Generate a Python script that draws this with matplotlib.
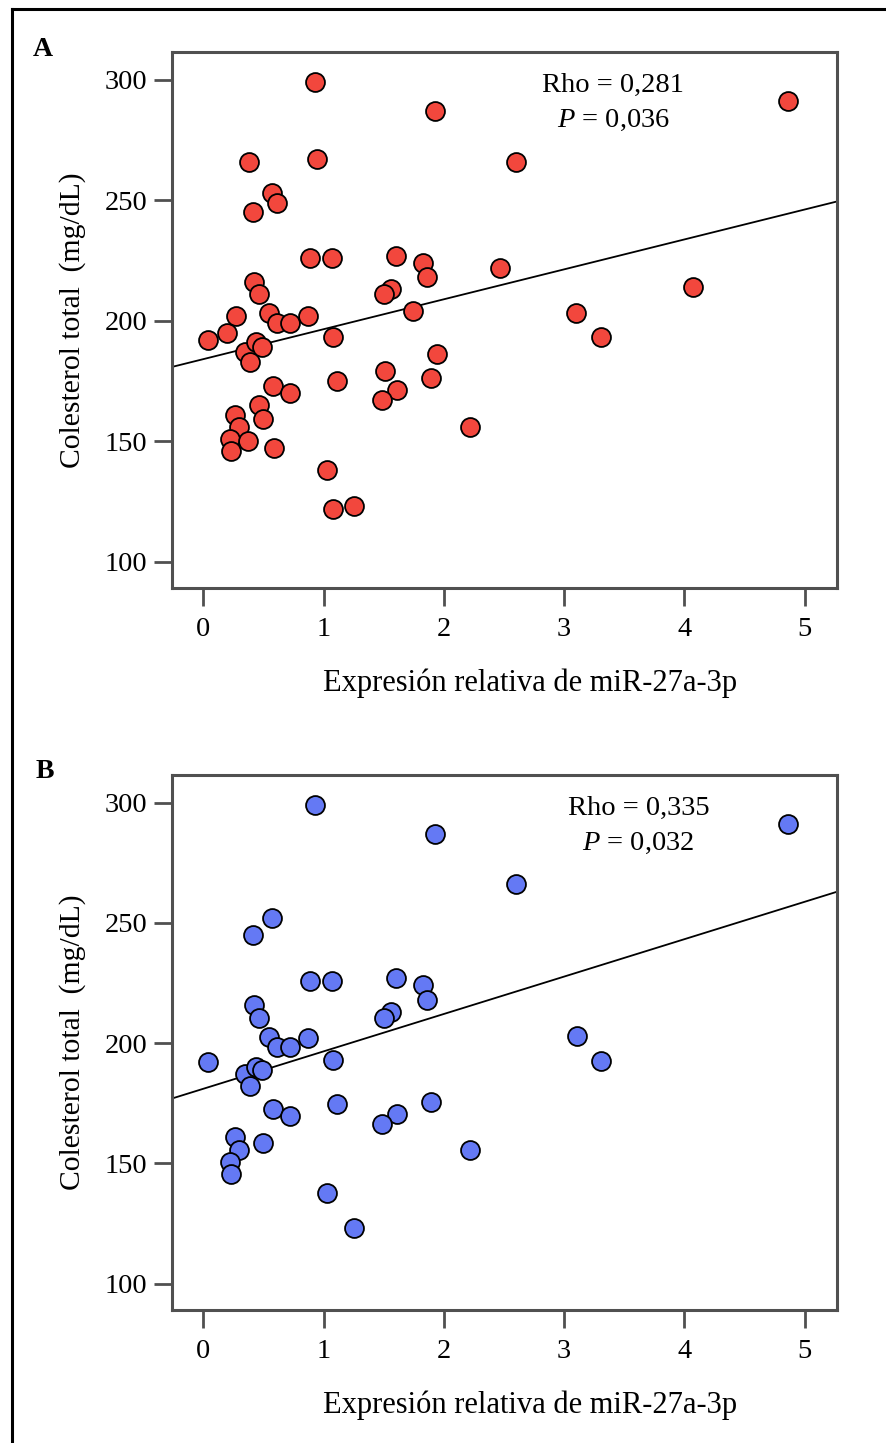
import numpy as np
import matplotlib
matplotlib.use("Agg")
import matplotlib.pyplot as plt
from matplotlib.lines import Line2D

plt.rcParams['font.family'] = ['Liberation Serif', 'DejaVu Serif']
plt.rcParams['mathtext.fontset'] = 'custom'
plt.rcParams['mathtext.rm'] = 'Liberation Serif'
plt.rcParams['mathtext.it'] = 'Liberation Serif:italic'

# panel A: all patients
x_a = [0.04, 0.20, 0.27, 0.35, 0.39, 0.44, 0.49, 0.42, 0.465, 0.55,
       0.615, 0.72, 0.87, 1.08, 0.38, 0.945, 0.93, 1.93, 0.57, 0.615,
       0.41, 0.89, 1.07, 1.60, 1.83, 1.86, 2.47, 1.56, 1.50, 1.74,
       1.94, 0.58, 0.72, 1.11, 1.51, 1.61, 1.49, 1.89, 0.46, 0.50,
       0.26, 0.30, 0.22, 0.37, 0.23, 0.59, 2.22, 1.03, 1.08, 1.25,
       4.86, 2.60, 4.07, 3.10, 3.31]
y_a = [192, 195, 202, 187, 183, 191, 189, 216, 211, 203,
       199, 199, 202, 193, 266, 267, 299, 287, 253, 249,
       245, 226, 226, 227, 224, 218, 222, 213, 211, 204,
       186, 173, 170, 175, 179, 171, 167, 176, 165, 159,
       161, 156, 151, 150, 146, 147, 156, 138, 122, 123,
       291, 266, 214, 203, 193]

# panel B: subgroup
x_b = [0.04, 0.35, 0.39, 0.44, 0.49, 0.42, 0.465, 0.55, 0.615, 0.72,
       0.87, 1.08, 0.93, 1.93, 0.57, 0.41, 0.89, 1.07, 1.60, 1.83,
       1.86, 1.56, 1.50, 0.58, 0.72, 1.11, 1.61, 1.49, 1.89, 0.50,
       0.26, 0.30, 0.22, 0.23, 2.22, 1.03, 1.25, 4.86, 2.60, 3.11,
       3.31]
y_b = [192, 187, 182, 190, 189, 216, 210.5, 202.5, 198.5, 198.5,
       202, 193, 299, 287, 252, 245, 226, 226, 227, 224,
       218, 213, 210.5, 172.5, 169.5, 174.5, 170.5, 166.5, 175.5, 158.5,
       161, 155.5, 150.5, 145.5, 155.5, 137.5, 123, 291, 266, 203,
       192.5]

# fitted lines (intercept, slope)
fit_a = (184.0, 12.42)
fit_b = (181.0, 15.55)
stats_a = ("0,281", "0,036")
stats_b = ("0,335", "0,032")

x_ticks = [0, 1, 2, 3, 4, 5]
y_ticks = [100, 150, 200, 250, 300]
x_label = "Expresión relativa de miR-27a-3p"
y_label = "Colesterol total  (mg/dL)"

W, H = 886, 1443
fig = plt.figure(figsize=(W / 100, H / 100), dpi=100)

spine_col = '#505050'


def draw_panel(ax, x, y, color, fit, stats, text_x):
    ax.set_xlim(-0.26, 5.27)
    ax.set_ylim(89, 311.5)
    a, b = fit
    xs = np.array(ax.get_xlim())
    ax.plot(xs, a + b * xs, color='black', lw=1.3, zorder=2)
    ax.scatter(x, y, s=185, c=color, edgecolors='black', linewidths=1.3, zorder=3)
    ax.set_xticks(x_ticks)
    ax.set_yticks(y_ticks)
    ax.tick_params(direction='out', length=13, width=2, color=spine_col,
                   labelsize=20.5)
    ax.tick_params(axis='x', pad=8)
    ax.tick_params(axis='y', pad=5)
    for s in ax.spines.values():
        s.set_color(spine_col)
        s.set_linewidth(2.2)
    ax.set_xlabel(x_label, fontsize=22, labelpad=19)
    ax.xaxis.label.set_x(0.538)  # label sits a bit right of centre
    ax.set_ylabel(y_label, fontsize=21.3, labelpad=13)
    ax.text(text_x, 297.5, "Rho = " + stats[0], fontsize=20.5,
            ha='center', va='center')
    ax.text(text_x, 283, "$P$ = " + stats[1], fontsize=20.5,
            ha='center', va='center')


left = 172 / W
width = 665 / W
ax_a = fig.add_axes([left, 1 - 588 / H, width, 536 / H])
ax_b = fig.add_axes([left, 1 - 1310 / H, width, 535 / H])

draw_panel(ax_a, x_a, y_a, '#f2473d', fit_a, stats_a, 3.41)
draw_panel(ax_b, x_b, y_b, '#6479f4', fit_b, stats_b, 3.62)

fig.text(43 / W, 1 - 49 / H, "A", fontsize=20, fontweight='bold', ha='center', va='center')
fig.text(45 / W, 1 - 771 / H, "B", fontsize=20, fontweight='bold', ha='center', va='center')

# outer frame (left and top edges only visible)
bx = 11.5 / W
by = 1 - 8.5 / H
fig.add_artist(Line2D([bx, bx], [0, by], transform=fig.transFigure, color='black', lw=2.2))
fig.add_artist(Line2D([bx, 1], [by, by], transform=fig.transFigure, color='black', lw=2.2))

fig.savefig("out.png", dpi=100)
